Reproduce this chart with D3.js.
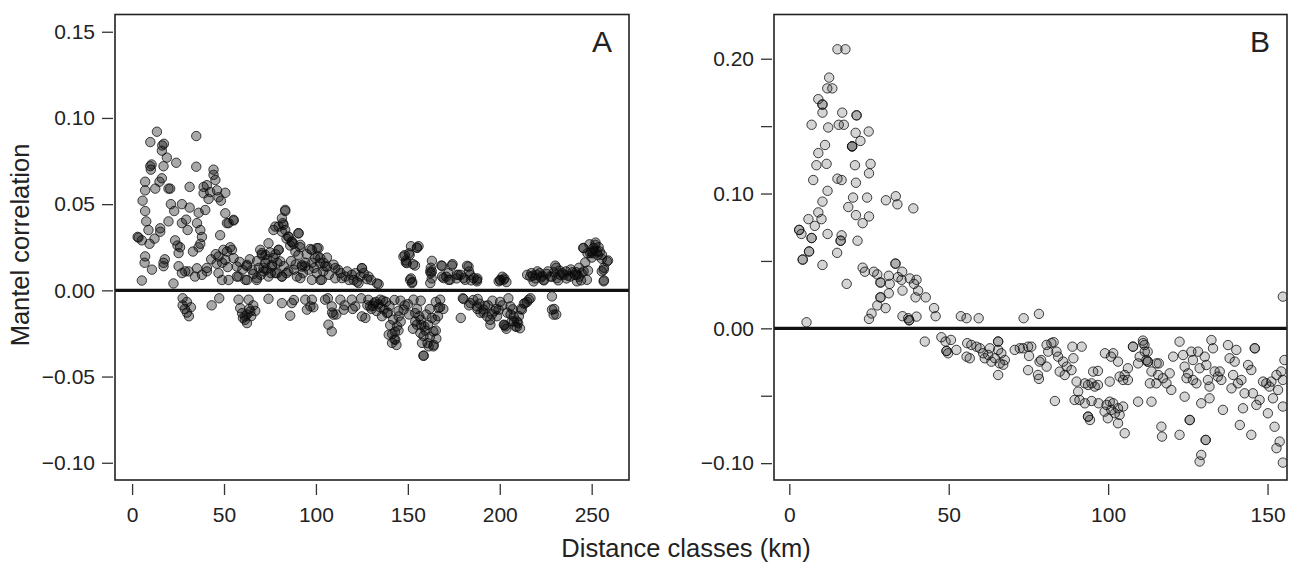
<!DOCTYPE html>
<html lang="en">
<head>
<meta charset="utf-8">
<title>Mantel correlograms</title>
<script src="https://cdn.jsdelivr.net/npm/d3@7/dist/d3.min.js"></script>
<style>
  body { margin: 0; background: #fff; font-family: "Liberation Sans", Arial, sans-serif; }
  #vis text { fill: #222; }
</style>
</head>
<body>
<div id="vis"></div>
<script>
// distance class (km), Mantel r  -- panel A
const pointsA = [
  [5.3,0.0057],[3.5,0.0306],[3.0,0.031],[5.3,0.029],[7.1,0.0197],[6.8,0.016],[9.5,0.027],[10.8,0.012],[8.9,0.035],[7.7,0.040],
  [7.1,0.046],[5.7,0.052],[7.1,0.058],[7.1,0.063],[9.9,0.072],[10.2,0.070],[10.6,0.073],[9.9,0.086],[13.5,0.092],[16.4,0.084],
  [17.3,0.085],[16.2,0.081],[18.9,0.077],[17.1,0.072],[16.2,0.065],[12.6,0.059],[14.9,0.063],[19.8,0.059],[20.7,0.059],[24,0.074],
  [15.3,0.036],[15.3,0.034],[12.2,0.030],[19.8,0.040],[21.1,0.050],[22.9,0.046],[27.1,0.050],[29.4,0.041],[27.1,0.039],[30.2,0.035],
  [23.4,0.029],[24.7,0.026],[26.1,0.025],[25.3,0.0216],[25.3,0.014],[27.1,0.010],[17.1,0.016],[17.8,0.018],[17.1,0.014],[22.5,0.004],
  [28.9,0.011],[31.3,0.060],[34.9,0.0895],[34.9,0.0717],[31.3,0.048],[35.3,0.039],[36.2,0.045],[37.1,0.035],[38,0.031],[37.1,0.027],
  [36.2,0.025],[33.1,0.0225],[35.3,0.0128],[38,0.009],[34.2,0.008],[30.7,0.011],[40.7,0.013],[40.7,0.011],[39.8,0.0466],[38.9,0.0563],
  [40.7,0.061],[44.3,0.070],[44.3,0.067],[45.3,0.064],[46.2,0.058],[42.5,0.057],[41.6,0.053],[47,0.054],[48.3,0.052],[50.7,0.0566],
  [38.9,0.060],[47.9,0.032],[50.7,0.0447],[51.6,0.039],[55.2,0.0405],[53.4,0.025],[51.6,0.0225],[49.7,0.0235],[47,0.0196],[50.7,0.0177],
  [55.2,0.0187],[57,0.0138],[47,0.010],[48.9,0.006],[52.5,0.006],[57,0.008],[62.5,0.014],[62.5,0.006],[67.8,0.006],[70.6,0.0206],
  [69.7,0.0235],[72.4,0.016],[71.5,0.011],[74.2,0.008],[76.9,0.0187],[76.9,0.035],[79.7,0.0235],[82,0.039],[83.3,0.046],[81.5,0.0418],
  [79.7,0.037],[83.3,0.035],[85.1,0.031],[86.9,0.028],[87.8,0.027],[90.5,0.033],[91.4,0.025],[90.5,0.0206],[76.1,0.0138],[78.8,0.010],
  [81.5,0.008],[84.1,0.010],[89.6,0.008],[92.4,0.0138],[94.2,0.016],[96.9,0.024],[101.4,0.0245],[102.4,0.0187],[104.2,0.016],[106,0.0138],
  [100.5,0.010],[102.4,0.006],[109.6,0.0149],[113.3,0.010],[110.5,0.007],[116,0.008],[120.5,0.006],[125.1,0.0128],[124.2,0.008],[127.8,0.0065],
  [133.2,0.004],[122.3,0.005],
  [83.3,0.0467],[82.4,0.038],[77.9,0.037],[81.5,0.034],[85,0.0312],[86.9,0.0283],[90.55,0.0332],[91.5,0.0264],[88.8,0.0225],[74.2,0.0273],
  [70.6,0.0216],[71.5,0.0129],[76.1,0.0148],[79.7,0.0235],[80.6,0.0168],[77.9,0.01],[81.5,0.008],[85,0.011],[92.4,0.0148],[94.2,0.0139],
  [97.8,0.0235],[100.5,0.0245],[99.6,0.0187],[102.3,0.0158],[105,0.0139],[110.5,0.0129],[114.1,0.0071],[119.5,0.009],[123.2,0.0042],[97.8,0.0061],
  [103.2,0.0061],[91.5,0.0071],[54.3,0.0235],[55.2,0.0409],[52.5,0.039],[62.5,0.0148],[57.9,0.008],[65.2,0.0119],[67.9,0.0071],[61.6,0.0061],
  [72.5,0.0205],[73.5,0.018],[75,0.022],[78,0.021],[84,0.03],[86,0.026],[88,0.012],[95,0.021],[98,0.016],[106,0.019],
  [66,0.0095],[69,0.013],[58.5,0.0165],[60,0.012],[45.5,0.021],[46,0.0155],[43,0.018],[49,0.016],[52,0.0135],[64,0.018],
  [70,0.009],[73,0.012],[75.5,0.01],[79,0.016],[82.5,0.014],[86.5,0.017],[89,0.015],[93,0.01],[96,0.012],[99,0.013],
  [101,0.02],[104,0.011],[107,0.009],[112,0.012],[117,0.011],[118,0.006],[121.5,0.01],[126,0.01],[130,0.006],[68,0.017],
  [148.3,0.0204],[150.6,0.0215],[151.7,0.0256],[149,0.0173],[152.8,0.0152],[155,0.0246],[155.8,0.0256],[151.7,0.0069],[152.4,0.0048],
  [147.6,0.0196],[149.4,0.0158],[153.9,0.0144],[151.2,0.0061],[152.2,0.0042],[163.1,0.0171],[163.1,0.0109],[162.2,0.0042],[168.2,0.0144],
  [174,0.0144],[183,0.0138],[168.6,0.008],[172.2,0.0061],[177.6,0.009],[181.2,0.0061],[185.8,0.0071],[187.6,0.0052],[125,0.0129],[128.6,0.008],
  [134.1,0.0036],[162.5,0.0131],[162.5,0.01],[163,0.0069],[168.6,0.0142],[170.9,0.0079],[172,0.01],[174.3,0.0152],[176.5,0.0069],[178.8,0.009],
  [182.2,0.0142],[183.3,0.011],[184.4,0.0058],[187.8,0.0069],[199.4,0.0052],[200.2,0.0058],[202.5,0.0069],[203.6,0.0048],[201.4,0.0079],
  [214.9,0.009],[217.2,0.01],[219.4,0.0069],[221.7,0.01],[224,0.0058],[226.2,0.011],[228.4,0.0079],[230.7,0.0131],[231.8,0.0058],[234,0.01],
  [236.3,0.0069],[238.6,0.0121],[240.9,0.009],[243.1,0.0131],[244.2,0.0058],[246.5,0.0162],[245.4,0.0246],[247.7,0.0215],[248.8,0.0267],
  [249.9,0.0225],[251,0.0246],[252.1,0.0277],[253.3,0.0204],[254.4,0.0225],[255.5,0.0183],[256.7,0.0131],[256.7,0.0058],[258.9,0.0173],
  [255.5,0.011],[243,0.0079],[218,0.0085],[222.5,0.0075],[233,0.009],[241.5,0.0105],[250.5,0.0215],
  [148.9,0.0162],[154.9,0.0249],[151,0.0206],[162.2,0.011],[169.4,0.0071],[173,0.0061],[176.7,0.009],[180.3,0.0071],[183.9,0.009],
  [187.6,0.0061],[200.3,0.0061],[202.1,0.0061],[216.6,0.008],[220.2,0.009],[223.8,0.0061],[227.5,0.008],[230.2,0.0143],[231.1,0.0071],
  [234.7,0.009],[238.4,0.008],[242,0.009],[245.6,0.011],[245.6,0.0245],[249.2,0.0216],[252,0.0264],[252.9,0.0225],[255.6,0.0206],
  [258.3,0.0168],[256.5,0.0119],[256.5,0.0052],[247.4,0.0061],[242,0.0052],[218.4,0.0052],[225.5,0.0095],[236,0.011],[248,0.0115],
  [220.5,0.011],[223,0.0085],[229.5,0.0105],[232.5,0.0115],[237,0.0085],[239.5,0.0105],[244.5,0.01],[251.5,0.023],[253.8,0.025],[250,0.019],
  [27.5,-0.0046],[27.5,-0.0087],[28.7,-0.0108],[29.8,-0.0129],[30.9,-0.015],[29.8,-0.0067],[32,-0.0098],[43.3,-0.0087],[47.4,-0.0046],
  [57.9,-0.0054],[58.8,-0.0103],[59.8,-0.0132],[61.6,-0.0151],[62.5,-0.019],[60.3,-0.016],[61.4,-0.0171],[62.5,-0.014],[63.7,-0.0108],
  [63.4,-0.0054],[64.3,-0.0122],[64.8,-0.015],[65.9,-0.0087],[67,-0.0119],[74.2,-0.0049],[81.5,-0.0074],[86.9,-0.0074],[86,-0.0147],
  [88,-0.0056],[94.2,-0.0054],[95.1,-0.0112],[97.8,-0.0054],[97,-0.0093],[98.6,-0.0098],[105,-0.0054],[106.5,-0.0046],[108.6,-0.0093],
  [109.5,-0.0141],[106.8,-0.0199],[108.6,-0.0238],[108.8,-0.0129],[111.1,-0.014],[113.3,-0.0054],[115.1,-0.0112],[115.6,-0.0087],
  [119.5,-0.0054],[121.4,-0.0093],[120,-0.0108],[125,-0.0151],[124.6,-0.0046],[126.9,-0.016],[128,-0.0087],[130.2,-0.0108],[132.5,-0.0067],
  [134.8,-0.0098],[135.9,-0.015],[138.1,-0.0067],[139.2,-0.0129],[140.4,-0.0202],[141.5,-0.0254],[142.7,-0.0285],[143.8,-0.0317],
  [144.9,-0.0233],[146.1,-0.0181],[144.9,-0.0119],[142.7,-0.0056],[148.3,-0.0087],[150.6,-0.014],[152.8,-0.0223],[154,-0.0181],
  [155,-0.0108],[156.2,-0.015],[157.3,-0.0202],[158.5,-0.0265],[158.5,-0.0379],[159.6,-0.0233],[160.7,-0.0306],[161.9,-0.0108],
  [163,-0.016],[164.1,-0.0317],[165.2,-0.0233],[166.4,-0.015],[167.5,-0.0098],[165.2,-0.0067],[169.3,-0.0108],[178.8,-0.016],
  [179.9,-0.0046],[183.3,-0.0087],[185.6,-0.0056],[187.8,-0.0108],[189,-0.0077],[191.2,-0.0129],[193.5,-0.0087],[194.8,-0.0171],
  [195.7,-0.014],[198,-0.0108],[200.2,-0.0067],[201.4,-0.0087],[202.5,-0.0202],[203.6,-0.0223],[204.7,-0.0046],[205.9,-0.014],
  [207.7,-0.0181],[209.3,-0.0212],[210.4,-0.015],[211.5,-0.0108],[213.1,-0.0077],[214.9,-0.0067],[216.7,-0.0046],[228.4,-0.0035],
  [229.6,-0.0108],[230.7,-0.014],[136.5,-0.006],[131,-0.009],[140,-0.009],[146,-0.006],[157,-0.006],[188,-0.005],[196,-0.006],
  [129.5,-0.0093],[135,-0.0054],[138.7,-0.0132],[139.6,-0.0257],[141.4,-0.0305],[143.2,-0.0286],[144.1,-0.0209],[145,-0.0151],
  [147.7,-0.0112],[153.1,-0.0054],[154,-0.0132],[154.9,-0.0199],[156.8,-0.0247],[157.7,-0.0305],[158.6,-0.0379],[161.3,-0.0325],
  [163.9,-0.0325],[163.9,-0.0238],[164.9,-0.017],[166.7,-0.0103],[167.6,-0.0054],[180.3,-0.005],[184,-0.0074],[187.6,-0.0093],
  [191.2,-0.0112],[193.1,-0.0151],[194.9,-0.0199],[199.4,-0.0112],[202.2,-0.0199],[203.1,-0.0209],[205.8,-0.0093],[207.6,-0.0151],
  [208.5,-0.0209],[209.4,-0.018],[212.1,-0.0112],[213.9,-0.0074],[215.8,-0.0054],[228.4,-0.0112],[229.3,-0.0141],[133,-0.012],
  [128.5,-0.0055],[150,-0.008],[160,-0.014],[161,-0.02],[198.5,-0.015],[206.5,-0.018],[189.5,-0.013],
  [131.5,-0.0075],[134,-0.008],[137,-0.011],[142,-0.017],[143,-0.024],[157,-0.017],[159,-0.021],[162,-0.027],[165.5,-0.028],
  [192,-0.009],[197,-0.012],[204,-0.013],[207,-0.011],[210,-0.019],[211,-0.022]
];

// distance class (km), Mantel r  -- panel B
const pointsB = [
  [15.1,0.207],[17.6,0.207],[12.5,0.186],[11.9,0.178],[13.5,0.178],[9.1,0.170],[10.4,0.166],[10.4,0.166],[10.4,0.160],[7,0.151],[12.2,0.149],
  [16.6,0.160],[15.5,0.151],[17.1,0.151],[21.1,0.158],[21.1,0.158],[20.8,0.145],[24.9,0.146],[22.3,0.139],[19.7,0.135],[19.7,0.135],[19.7,0.135],[11.2,0.136],[9.1,0.130],
  [8.5,0.121],[11.7,0.122],[7.5,0.110],[15.1,0.111],[16.4,0.110],[20.6,0.121],[25.5,0.122],[25,0.115],[20.9,0.108],[12,0.102],
  [10.4,0.094],[9.1,0.086],[6,0.081],[8,0.076],[10.1,0.081],[20,0.097],[24.4,0.097],[18.5,0.090],[20.9,0.084],[25,0.083],
  [23,0.078],[30.3,0.095],[33.4,0.098],[33.9,0.092],[38.9,0.089],[3.1,0.073],[3.1,0.073],[3.8,0.070],[7,0.067],[7,0.067],[12,0.070],[16.4,0.069],
  [16.1,0.065],[16.1,0.065],[21.4,0.065],[6.2,0.057],[6.2,0.057],[4.2,0.051],[4.2,0.051],[15,0.056],[10.4,0.047],[18,0.033],[5.4,0.0045],[23,0.045],[23.7,0.042],
  [26.5,0.042],[27.6,0.040],[28.6,0.034],[28.6,0.034],[31.2,0.039],[33.3,0.048],[33.3,0.048],[34.1,0.038],[35.4,0.042],[35.2,0.036],[31.5,0.033],[31.2,0.026],
  [28.6,0.023],[28.6,0.023],[27.6,0.017],[30.2,0.015],[25.8,0.011],[25,0.007],[35.5,0.028],[37.8,0.037],[39.1,0.033],[39.9,0.036],[40.4,0.028],
  [39.6,0.023],[42.8,0.023],[45.4,0.015],[45.9,0.009],[35.5,0.009],[37.3,0.0075],[37.6,0.006],[37.6,0.006],[39.9,0.0087],[53.8,0.009],[55.6,0.0075],
  [59.4,0.0075],[73.5,0.0075],[78.3,0.0107],
  [42.5,-0.0098],[47.7,-0.0066],[49,-0.0098],[50.7,-0.0086],[49.3,-0.0168],[49.3,-0.0168],[49.8,-0.0185],[52.4,-0.016],[55.8,-0.011],[57.1,-0.0123],
  [58.7,-0.0136],[55.6,-0.021],[56.6,-0.0222],[59.8,-0.0148],[60.8,-0.0185],[61.3,-0.0222],[62.4,-0.0197],[62.9,-0.0148],[63.4,-0.0247],
  [64.5,-0.0222],[65.5,-0.0098],[65.5,-0.0098],[65.5,-0.016],[66.5,-0.0185],[66,-0.026],[67.1,-0.027],[65.5,-0.0346],[67.6,-0.0235],[70.7,-0.016],
  [72.3,-0.0148],[73.3,-0.0148],[74.9,-0.0136],[75.9,-0.0136],[75.2,-0.0205],[74.9,-0.031],[78,-0.0346],[78.3,-0.0375],[79,-0.0235],
  [80.7,-0.0284],[80.7,-0.0123],[82.2,-0.011],[82.9,-0.0103],[81.2,-0.0173],[78.5,-0.0247],[83.8,-0.0173],[84.3,-0.021],[84.8,-0.0321],
  [85.9,-0.0247],[86.4,-0.0346],[88.5,-0.031],[88.8,-0.0136],[89.1,-0.0222],[91.7,-0.0136],[83.3,-0.0539],[87,-0.0284],[90.1,-0.0395],
  [90.6,-0.0469],[92.7,-0.0408],[93.7,-0.042],[94.8,-0.0408],[95.8,-0.0432],[96.8,-0.042],[89.5,-0.0531],[91,-0.0531],[92.7,-0.0556],
  [93.7,-0.0655],[93.7,-0.0655],[94.3,-0.068],[94.8,-0.0539],[95.3,-0.0321],[96.8,-0.0316],[99,-0.0185],[100.9,-0.021],[101.6,-0.0185],[103.1,-0.0247],
  [97,-0.0556],[98.9,-0.0618],[99.5,-0.0568],[100.5,-0.0544],[101.6,-0.0556],[101,-0.0605],[99.9,-0.0667],[102.1,-0.063],[103.1,-0.0593],
  [103.6,-0.0642],[104.7,-0.058],[103.1,-0.0704],[105.2,-0.0778],[100.5,-0.0395],[103.6,-0.0358],[104.7,-0.0383],[105.2,-0.0346],
  [106.2,-0.0383],[106.2,-0.0296],[107.8,-0.0136],[109.4,-0.0544],[109.9,-0.021],[111,-0.011],[111.5,-0.0173],[112,-0.0235],
  [112.5,-0.0247],[113.1,-0.0408],[113.6,-0.0544],[115.2,-0.026],[115.7,-0.0346],
  [154.8,0.0235],[110.9,-0.0091],[111.4,-0.0124],[112.4,-0.0173],[107.8,-0.0136],[109.4,-0.026],[112.4,-0.0247],[115.9,-0.026],
  [113.6,-0.032],[115.1,-0.0408],[117.2,-0.037],[118.3,-0.0408],[119.3,-0.0334],[119.8,-0.0457],[120.4,-0.021],[122.4,-0.0099],
  [123.5,-0.0198],[124,-0.0284],[124.6,-0.037],[125.1,-0.0334],[126.1,-0.0173],[126.6,-0.0235],[126.6,-0.0383],[127.7,-0.0408],
  [128.2,-0.0173],[128.7,-0.0296],[129.2,-0.0556],[124,-0.0507],[125.6,-0.068],[125.6,-0.068],[116.7,-0.0729],[116.9,-0.0803],[122.4,-0.079],
  [130.6,-0.0828],[130.6,-0.0828],[129.2,-0.0939],[128.7,-0.0988],[130.3,-0.021],[130.8,-0.0272],[131.3,-0.0383],[131.8,-0.0432],[131.8,-0.0519],
  [132.4,-0.0087],[132.9,-0.0148],[133.4,-0.032],[134.4,-0.0358],[135,-0.032],[135.5,-0.0383],[136,-0.0605],[137.6,-0.0124],
  [138.1,-0.0222],[138.7,-0.0445],[139.2,-0.0346],[139.7,-0.0247],[140.2,-0.016],[140.7,-0.0408],[141.3,-0.0717],[141.8,-0.0383],
  [142.3,-0.0593],[142.8,-0.0482],[143.9,-0.0272],[144.9,-0.0309],[145.4,-0.0482],[144.9,-0.079],[146,-0.0148],[146,-0.0148],[146.5,-0.0568],
  [147.5,-0.0531],[148.6,-0.0395],[149.6,-0.0408],[150.1,-0.063],[150.6,-0.0432],[151.2,-0.0395],[151.7,-0.0519],[152.2,-0.073],
  [152.8,-0.0346],[152.8,-0.0889],[153.8,-0.084],[153.3,-0.0457],[154.3,-0.032],[154.8,-0.0383],[154.8,-0.058],[154.8,-0.0996],
  [155.3,-0.0235]
];

const xTicksA = [0, 50, 100, 150, 200, 250];
const yTicksA = [0.15, 0.10, 0.05, 0.00, -0.05, -0.10];
const xTicksB = [0, 50, 100, 150];
const yTicksB = [0.20, 0.15, 0.10, 0.05, 0.00, -0.05, -0.10];
const yLabelsB = [0.20, 0.10, 0.00, -0.10];

const W = 1290, H = 566;
const svg = d3.select('#vis').append('svg').attr('width', W).attr('height', H);
const fmt = d3.format('.2f');

function panel(id, pts, box, xDom, yDom, xTicks, yTicks, yLabels, fillOpacity, tag) {
  const x = d3.scaleLinear().domain(xDom).range([box.l, box.r]);
  const y = d3.scaleLinear().domain(yDom).range([box.b, box.t]);

  svg.append('clipPath').attr('id', 'clip' + id)
    .append('rect').attr('x', box.l).attr('y', box.t)
    .attr('width', box.r - box.l).attr('height', box.b - box.t);

  const g = svg.append('g').attr('clip-path', `url(#clip${id})`);
  g.selectAll('circle').data(pts).join('circle')
    .attr('cx', d => x(d[0]))
    .attr('cy', d => y(d[1]))
    .attr('r', 4.7)
    .attr('fill', '#000')
    .attr('fill-opacity', fillOpacity)
    .attr('stroke', '#111')
    .attr('stroke-opacity', 0.8)
    .attr('stroke-width', 1);

  // zero line
  svg.append('line')
    .attr('x1', box.l).attr('x2', box.r)
    .attr('y1', y(0)).attr('y2', y(0))
    .attr('stroke', '#111').attr('stroke-width', 3.2);

  // frame
  svg.append('rect')
    .attr('x', box.l).attr('y', box.t)
    .attr('width', box.r - box.l).attr('height', box.b - box.t)
    .attr('fill', 'none').attr('stroke', '#222').attr('stroke-width', 1.6);

  const ax = svg.append('g')
    .attr('transform', `translate(0,${box.b + 4})`)
    .call(d3.axisBottom(x).tickValues(xTicks).tickSize(11).tickPadding(12).tickFormat(d3.format('d')));
  const ay = svg.append('g')
    .attr('transform', `translate(${box.l - 2},0)`)
    .call(d3.axisLeft(y).tickValues(yTicks).tickSize(11).tickPadding(7)
      .tickFormat(d => yLabels.includes(d) ? fmt(d) : ''));
  [ax, ay].forEach(a => {
    a.select('.domain').remove();
    a.selectAll('line').attr('stroke', '#333').attr('stroke-width', 1.3);
    a.selectAll('text').attr('font-size', 21).attr('font-family', '"Liberation Sans", Arial, sans-serif').attr('fill', '#222');
  });

  svg.append('text')
    .attr('x', box.r - 17).attr('y', 52)
    .attr('text-anchor', 'end')
    .attr('font-size', 30)
    .text(tag);
}

panel('A', pointsA, { l: 115, r: 629, t: 14.5, b: 480 }, [-9.3, 270.3], [-0.11, 0.16],
  xTicksA, yTicksA, yTicksA, 0.34, 'A');
panel('B', pointsB, { l: 774, r: 1287, t: 14.5, b: 480 }, [-4.8, 156.1], [-0.1125, 0.2328],
  xTicksB, yTicksB, yLabelsB, 0.17, 'B');

svg.append('text')
  .attr('transform', 'translate(29,245) rotate(-90)')
  .attr('text-anchor', 'middle')
  .attr('font-size', 25.5)
  .text('Mantel correlation');

svg.append('text')
  .attr('x', 686).attr('y', 557)
  .attr('text-anchor', 'middle')
  .attr('font-size', 25.5)
  .text('Distance classes (km)');
</script>
</body>
</html>
